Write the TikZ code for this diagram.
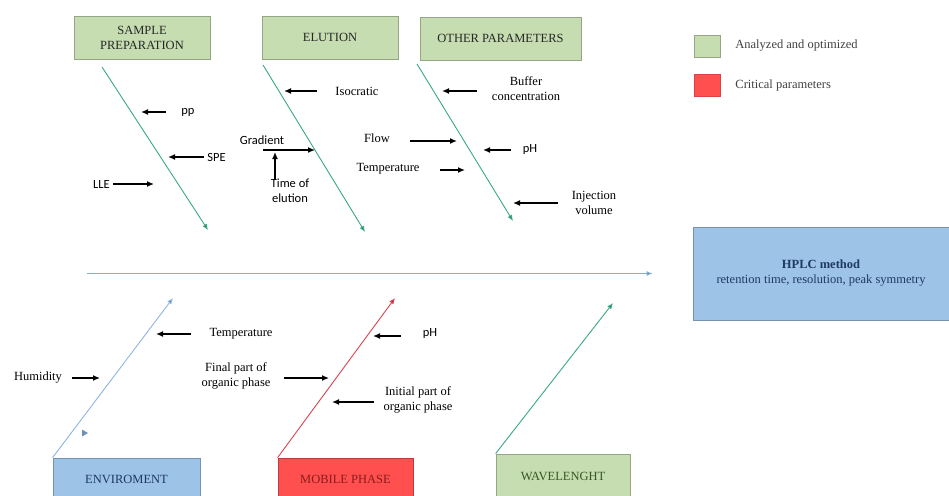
\documentclass[tikz,border=0pt]{standalone}
\usepackage{fontspec}
\setmainfont{Liberation Serif}
\newfontfamily\calib{Carlito}
\usetikzlibrary{positioning,arrows.meta}

\definecolor{boxgreen}{HTML}{C5DDB0}
\definecolor{boxblue}{HTML}{9DC3E6}
\definecolor{boxred}{HTML}{FF4F4F}
\definecolor{bonegreen}{HTML}{3AA887}
\definecolor{boneblue}{HTML}{8EB4E3}
\definecolor{bonered}{HTML}{E0414F}
\definecolor{spinecol}{HTML}{86AECF}
\definecolor{navytext}{HTML}{1F3864}
\definecolor{redtext}{HTML}{8B1C1C}
\definecolor{greentext}{HTML}{385723}

\begin{document}
\begin{tikzpicture}[x=1pt,y=-1pt,node distance=13pt,
    every node/.style={font=\fontsize{12.5}{15}\selectfont,inner sep=2pt},
    sans/.style={font=\calib\fontsize{12.5}{15}\selectfont},
    cause/.style={draw=#1!75!black,fill=#1,line width=0.8pt,minimum height=43pt,align=center,text=black!85},
    bone/.style={draw=#1,line width=0.9pt,-{Latex[length=6pt,width=5pt,fill=#1!70!black]}},
    param/.style={draw=black,line width=1.3pt,-{Latex[length=7pt,width=6pt]},shorten <=#1},
    param/.default=1pt]
\useasboundingbox (0,0) rectangle (949,495);

% causes on top
\node[cause=boxgreen,minimum width=136pt] (sp) at (142,37.5) {SAMPLE\\PREPARATION};
\node[cause=boxgreen,minimum width=136pt] (el) at (330,37.5) {ELUTION};
\node[cause=boxgreen,minimum width=161pt] (op) at (500.5,38.5) {OTHER PARAMETERS};

% legend
\node[fill=boxgreen,draw=boxgreen!75!black,minimum width=26pt,minimum height=22pt,inner sep=0pt] (lg1) at (707,46) {};
\node[right=of lg1,text=black!75] (lg1t) {Analyzed and optimized};
\node[fill=boxred,draw=boxred!85!black,minimum width=26pt,minimum height=22pt,inner sep=0pt] (lg2) at (707,85) {};
\node[right=of lg2,text=black!75] (lg2t) {Critical parameters};

% effect
\node[cause=boxblue,minimum width=256pt,minimum height=93pt,text=navytext] (hplc) at (821,273.5) {\textbf{HPLC method}\\retention time, resolution, peak symmetry};
\coordinate (spine) at (87,273.5);
\draw[bone=spinecol,shorten >=40pt] (spine) -- (hplc.west);

% causes below
\node[cause=boxblue,minimum width=147pt,minimum height=42pt,text=navytext] (env) at (126.5,479) {ENVIROMENT};
\node[cause=boxred,minimum width=135pt,minimum height=42pt,text=redtext] (mob) at (345.5,479) {MOBILE PHASE};
\node[cause=boxgreen,minimum width=134pt,minimum height=44pt,text=greentext] (wav) at (563,476) {WAVELENGHT};

% bones
\coordinate (spA) at (102,67);  \coordinate (spB) at (208,230);
\coordinate (elA) at (263,65);  \coordinate (elB) at (365,232);
\coordinate (opA) at (417,64);  \coordinate (opB) at (513,221);
\coordinate (envB) at (173,298); \coordinate (mobB) at (395,298); \coordinate (wavB) at (613,303);
\draw[bone=bonegreen] (spA) -- (spB);
\draw[bone=bonegreen] (elA) -- (elB);
\draw[bone=bonegreen] (opA) -- (opB);
\draw[bone=boneblue] (env.north west) -- (envB);
\draw[bone=bonered] (mob.north west) -- (mobB);
\draw[bone=bonegreen] (wav.north west) -- (wavB);
\fill[boneblue!80!black] (82,429.5) -- (88,433) -- (82,436.5) -- cycle;

% sample preparation
\node[sans] (pp) at (188,112) {pp};       \coordinate (ppH) at (141,112);
\node[sans] (spe) at (216.5,157) {SPE};   \coordinate (speH) at (168,157);
\node[sans] (lle) at (101.5,184) {LLE};   \coordinate (lleH) at (154,184);
\draw[param=13pt] (pp) -- (ppH);
\draw[param] (spe) -- (speH);
\draw[param] (lle) -- (lleH);

% elution
\node (iso) at (357,91) {Isocratic};      \coordinate (isoH) at (284,91);
\node[sans] (grad) at (262,140) {Gradient}; \coordinate (gradH) at (315,150);
\node[sans,align=center] (tel) at (290,191) {Time of\\elution}; \coordinate (telH) at (275,152);
\draw[param=16pt] (iso) -- (isoH);
\draw[param] (grad.south |- gradH) -- (gradH);
\draw[param=-3pt] (tel.north -| telH) -- (telH);

% other parameters
\node[align=center] (buf) at (526,89) {Buffer\\concentration}; \coordinate (bufH) at (442,91);
\node (flow) at (377,138) {Flow};          \coordinate (flowH) at (457,141);
\node[sans] (ph) at (530,149) {pH};        \coordinate (phH) at (483,150);
\node (temp) at (388,169) {Temperature};   \coordinate (tempH) at (465,170);
\node[align=center] (inj) at (594,203) {Injection\\volume}; \coordinate (injH) at (513,203);
\draw[param=13pt] (buf.west |- bufH) -- (bufH);
\draw[param=18pt] (flow.east |- flowH) -- (flowH);
\draw[param=10pt] (ph.west |- phH) -- (phH);
\draw[param=18pt] (temp.east |- tempH) -- (tempH);
\draw[param=12pt] (inj) -- (injH);

% enviroment
\node (btemp) at (241,334) {Temperature};  \coordinate (btempH) at (156,334);
\node (hum) at (38,378) {Humidity};        \coordinate (humH) at (100,378);
\draw[param=16pt] (btemp) -- (btempH);
\draw[param=8pt] (hum) -- (humH);

% mobile phase
\node[align=center] (fin) at (236,376) {Final part of\\organic phase}; \coordinate (finH) at (329,378);
\node[sans] (bph) at (430,333) {pH};       \coordinate (bphH) at (373,336);
\node[align=center] (ini) at (418,400) {Initial part of\\organic phase}; \coordinate (iniH) at (332,402);
\draw[param=11pt] (fin.east |- finH) -- (finH);
\draw[param=20pt] (bph.west |- bphH) -- (bphH);
\draw[param=7pt] (ini.west |- iniH) -- (iniH);
\end{tikzpicture}
\end{document}
